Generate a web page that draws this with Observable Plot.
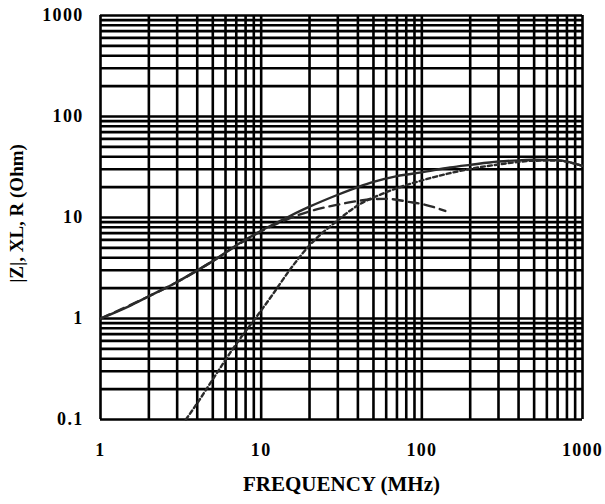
<!DOCTYPE html>
<html>
<head>
<meta charset="utf-8">
<script src="https://cdn.jsdelivr.net/npm/d3@7"></script>
<script src="https://cdn.jsdelivr.net/npm/@observablehq/plot@0.6"></script>
<style>
  html, body { margin: 0; padding: 0; background: #fff; }
  g[aria-label$="tick label"] text { letter-spacing: 1.3px; }
</style>
</head>
<body>
<div id="chart"></div>
<script>
// Frequency (MHz) and values (Ohm)
const zFreq = [1, 1.5, 2, 3, 4, 5, 7, 10, 15, 20, 30, 40, 50, 70, 100, 150, 200, 300, 400, 500, 700, 850, 1000];
const zVals = [1.0, 1.32, 1.66, 2.3, 3.0, 3.7, 5.3, 7.4, 10.3, 12.8, 16.8, 20, 22.5, 25.7, 28, 31.3, 33.2, 35.8, 36.8, 37.3, 37, 35, 32.5];

const xlFreq = [1, 2, 3, 5, 7, 10, 15, 20, 25, 30, 40, 50, 60, 70, 80, 100, 120, 140];
const xlVals = [1.0, 1.66, 2.3, 3.7, 5.25, 7.3, 9.8, 11.5, 12.6, 13.4, 14.6, 15.2, 15.3, 15.0, 14.4, 13.6, 12.6, 11.6];

const rFreq = [3.4, 4, 5, 7, 10, 12, 15, 20, 30, 40, 57, 70, 100, 150, 200, 300, 400, 500, 700, 850, 1000];
const rVals = [0.1, 0.145, 0.25, 0.56, 1.2, 1.8, 3.0, 5.3, 9.4, 13.2, 17.2, 19.5, 23.3, 27.5, 30.3, 33.5, 35.5, 36.5, 36.6, 34.8, 32.5];

const xTicks = [1, 10, 100, 1000];
const yTicks = [0.1, 1, 10, 100, 1000];
const mantissas = [1, 2, 3, 4, 5, 6, 7, 8, 9];

const xLabel = "FREQUENCY (MHz)";
const yLabel = "|Z|, XL, R (Ohm)";

const toRows = (fs, vs) => fs.map((f, i) => ({f, v: vs[i]}));
const zData = toRows(zFreq, zVals);
const xlData = toRows(xlFreq, xlVals);
const rData = toRows(rFreq, rVals);

const xGrid = xTicks.slice(0, -1).flatMap(d => mantissas.map(m => d * m)).concat([xTicks[xTicks.length - 1]]);
const yGrid = yTicks.slice(0, -1).flatMap(d => mantissas.map(m => +(d * m).toPrecision(3))).concat([yTicks[yTicks.length - 1]]);

const font = "'Liberation Serif', 'Times New Roman', serif";
const curveColor = "#2b2b2b";

const chart = Plot.plot({
  width: 605,
  height: 504,
  marginLeft: 100,
  marginRight: 23,
  marginTop: 15,
  marginBottom: 85,
  style: {fontFamily: font, background: "#fff", color: "#000"},
  x: {type: "log", domain: [1, 1000]},
  y: {type: "log", domain: [0.1, 1000]},
  marks: [
    Plot.ruleX(xGrid, {stroke: "#000", strokeWidth: 2.6}),
    Plot.ruleY(yGrid, {stroke: "#000", strokeWidth: 2.6}),
    Plot.line(zData, {x: "f", y: "v", stroke: curveColor, strokeWidth: 2.4, curve: "monotone-x"}),
    Plot.line(xlData, {x: "f", y: "v", stroke: curveColor, strokeWidth: 2.4, strokeDasharray: "10,6", curve: "monotone-x"}),
    Plot.line(rData, {x: "f", y: "v", stroke: curveColor, strokeWidth: 2.4, strokeDasharray: "4,3", curve: "monotone-x"}),
    Plot.axisX(xTicks, {tickSize: 0, tickPadding: 24, fontSize: 18, fontWeight: "bold", tickFormat: d => String(d), label: null}),
    Plot.axisY(yTicks, {tickSize: 0, tickPadding: 17, fontSize: 18, fontWeight: "bold", tickFormat: d => String(d), label: null}),
    Plot.text([xLabel], {frameAnchor: "bottom", dy: 71, fontSize: 21, fontWeight: "bold", text: d => d}),
    Plot.text([yLabel], {frameAnchor: "left", dx: -84, dy: -4, rotate: -90, textAnchor: "middle", fontSize: 19, fontWeight: "bold", text: d => d})
  ]
});
document.getElementById("chart").append(chart);
</script>
</body>
</html>
